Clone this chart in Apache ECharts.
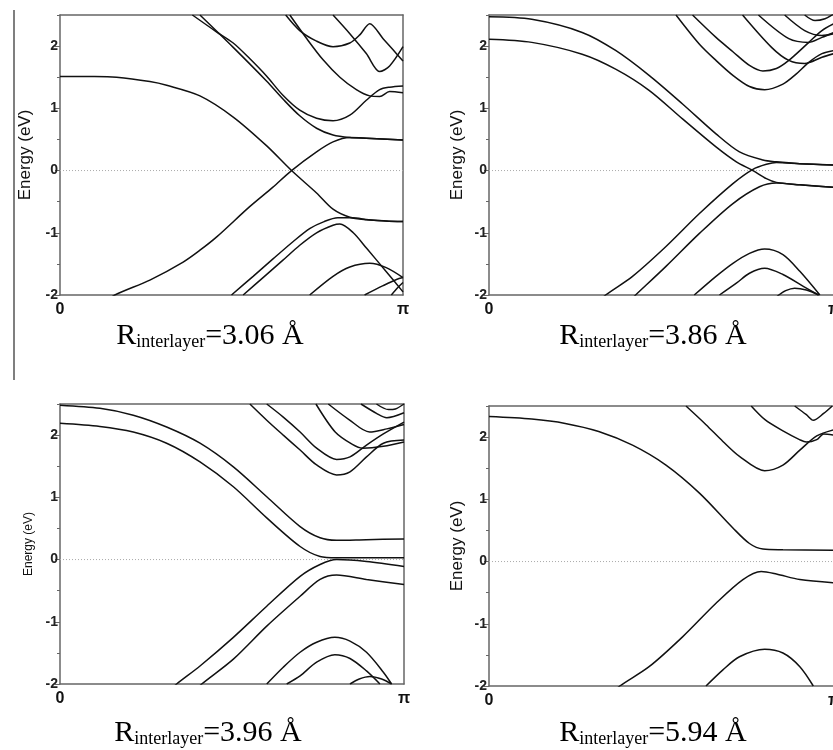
<!DOCTYPE html>
<html>
<head>
<meta charset="utf-8">
<script src="https://cdn.jsdelivr.net/npm/echarts@6/dist/echarts.min.js"></script>
<style>html,body{margin:0;padding:0;background:#fff;}#chart{width:833px;height:750px;}</style>
</head>
<body>
<div id="chart"></div>
<script>
// x: k / pi (0 .. 1), y: energy in eV
const xTickLabels = ['0', 'π'];
const yTicks = [-2, -1, 0, 1, 2];
const panelTitles = ['3.06 Å', '3.86 Å', '3.96 Å', '5.94 Å'];
const zeroLine = [[0, 0], [1, 0]];

// Panel 1: R = 3.06 Å
const p1A  = [[0,1.51],[0.1,1.51],[0.165,1.50],[0.262,1.43],[0.311,1.37],[0.408,1.20],[0.505,0.86],[0.602,0.40],[0.675,0],[0.748,-0.36],[0.796,-0.62],[0.845,-0.75],[0.893,-0.79],[0.95,-0.81],[1,-0.82]];
const p1B  = [[0.13,-2.12],[0.16,-2.0],[0.262,-1.76],[0.359,-1.47],[0.408,-1.28],[0.456,-1.07],[0.553,-0.58],[0.62,-0.27],[0.675,0],[0.748,0.30],[0.796,0.46],[0.845,0.53],[0.893,0.52],[1,0.49]];
const p1U1 = [[0.386,2.5],[0.456,2.23],[0.505,2.05],[0.553,1.80],[0.602,1.52],[0.650,1.21],[0.699,0.97],[0.748,0.84],[0.796,0.80],[0.845,0.89],[0.893,1.13],[0.932,1.30],[0.961,1.34],[1,1.36]];
const p1U2 = [[0.408,2.5],[0.505,1.98],[0.602,1.44],[0.650,1.15],[0.699,0.88],[0.748,0.68],[0.796,0.57],[0.845,0.53],[0.893,0.52],[1,0.49]];
const p1U3 = [[0.658,2.5],[0.699,2.25],[0.748,2.08],[0.796,1.99],[0.845,2.05],[0.874,2.18],[0.903,2.36],[0.942,2.12],[0.971,1.94],[1,1.76]];
const p1U4 = [[0.796,2.5],[0.845,2.20],[0.893,1.88],[0.932,1.59],[0.961,1.68],[1,1.99]];
const p1U5 = [[0.670,2.5],[0.718,2.13],[0.767,1.78],[0.816,1.50],[0.864,1.30],[0.903,1.20],[0.932,1.19],[0.961,1.27],[1,1.25]];
const p1L1 = [[0.5,-2.0],[0.563,-1.70],[0.621,-1.42],[0.680,-1.14],[0.729,-0.93],[0.77,-0.82],[0.81,-0.76],[0.85,-0.76],[0.90,-0.79],[0.95,-0.81],[1,-0.82]];
const p1L2 = [[0.534,-2.0],[0.592,-1.72],[0.650,-1.44],[0.699,-1.20],[0.748,-1.00],[0.796,-0.88],[0.816,-0.86],[0.855,-1.0],[0.894,-1.25],[0.952,-1.63],[1,-1.95]];
const p1L3 = [[0.728,-2.0],[0.796,-1.70],[0.845,-1.55],[0.903,-1.49],[0.951,-1.56],[1,-1.72]];
const p1L4 = [[0.888,-2.0],[0.942,-1.85],[0.981,-1.75],[1,-1.72]];
const p1L5 = [[0.966,-2.0],[0.985,-1.88],[1,-1.80]];

// Panel 2: R = 3.86 Å
const p2V1 = [[0,2.47],[0.124,2.43],[0.270,2.22],[0.367,1.93],[0.464,1.53],[0.561,1.07],[0.658,0.59],[0.726,0.30],[0.794,0.17],[0.833,0.14],[0.901,0.11],[1,0.09]];
const p2V2 = [[0,2.11],[0.124,2.06],[0.270,1.87],[0.367,1.63],[0.464,1.29],[0.561,0.83],[0.658,0.38],[0.717,0.14],[0.765,0],[0.804,-0.13],[0.833,-0.19],[0.901,-0.23],[1,-0.27]];
const p2C1 = [[0.32,-2.1],[0.338,-2.0],[0.416,-1.70],[0.513,-1.22],[0.610,-0.69],[0.707,-0.21],[0.765,0.02],[0.804,0.10],[0.833,0.13],[0.901,0.11],[1,0.09]];
const p2C2 = [[0.41,-2.08],[0.425,-2.0],[0.513,-1.54],[0.610,-1.01],[0.707,-0.53],[0.784,-0.26],[0.833,-0.20],[0.901,-0.23],[1,-0.27]];
const p2D1 = [[0.595,-2.0],[0.658,-1.70],[0.707,-1.49],[0.755,-1.33],[0.799,-1.26],[0.852,-1.35],[0.901,-1.62],[0.959,-2.0]];
const p2D2 = [[0.668,-2.0],[0.717,-1.81],[0.755,-1.65],[0.799,-1.57],[0.852,-1.67],[0.911,-1.86],[0.955,-2.0]];
const p2D3 = [[0.835,-2.02],[0.86,-1.93],[0.886,-1.89],[0.92,-1.92],[0.956,-2.0]];
const p2E1 = [[0.542,2.5],[0.610,2.03],[0.658,1.77],[0.707,1.53],[0.755,1.35],[0.799,1.30],[0.852,1.39],[0.890,1.55],[0.927,1.74],[0.965,1.88],[1,1.93]];
const p2E2 = [[0.590,2.5],[0.658,2.14],[0.707,1.91],[0.755,1.69],[0.794,1.60],[0.833,1.64],[0.869,1.77],[0.927,2.06],[0.965,2.25],[1,2.36]];
const p2E3 = [[0.735,2.5],[0.819,1.98],[0.869,1.77],[0.915,1.72],[0.965,1.82],[1,1.88]];
const p2E4 = [[0.781,2.5],[0.869,2.12],[0.927,2.06],[0.965,2.14],[1,2.22]];
const p2E5 = [[0.857,2.5],[0.915,2.25],[0.965,2.17],[1,2.20]];
const p2E6 = [[0.915,2.5],[0.945,2.41],[0.974,2.44],[1,2.52]];

// Panel 3: R = 3.96 Å
const p3V1 = [[0,2.48],[0.116,2.43],[0.213,2.32],[0.310,2.13],[0.407,1.87],[0.504,1.49],[0.601,1.01],[0.698,0.53],[0.756,0.35],[0.804,0.31],[0.891,0.32],[1,0.33]];
const p3V2 = [[0,2.19],[0.116,2.14],[0.213,2.05],[0.310,1.87],[0.407,1.57],[0.504,1.17],[0.601,0.67],[0.698,0.21],[0.756,0.05],[0.804,0.03],[0.891,0.03],[1,0.03]];
const p3C1 = [[0.32,-2.1],[0.339,-2.0],[0.407,-1.71],[0.504,-1.25],[0.601,-0.75],[0.698,-0.27],[0.756,-0.08],[0.804,0],[0.891,-0.03],[1,-0.11]];
const p3C2 = [[0.40,-2.07],[0.412,-2.0],[0.504,-1.60],[0.601,-1.07],[0.698,-0.59],[0.756,-0.32],[0.804,-0.25],[0.891,-0.32],[1,-0.40]];
const p3D1 = [[0.601,-2.0],[0.649,-1.73],[0.698,-1.49],[0.746,-1.33],[0.799,-1.25],[0.843,-1.31],[0.891,-1.49],[0.940,-1.81],[0.964,-2.0]];
const p3D2 = [[0.659,-2.0],[0.698,-1.87],[0.746,-1.65],[0.799,-1.53],[0.843,-1.59],[0.891,-1.79],[0.930,-2.0]];
const p3D3 = [[0.843,-2.0],[0.87,-1.92],[0.901,-1.88],[0.935,-1.92],[0.964,-2.0]];
const p3E1 = [[0.552,2.5],[0.601,2.24],[0.649,2.00],[0.698,1.76],[0.746,1.52],[0.804,1.36],[0.843,1.41],[0.891,1.65],[0.940,1.87],[1,1.92]];
const p3E2 = [[0.601,2.5],[0.649,2.29],[0.698,2.05],[0.746,1.79],[0.804,1.61],[0.843,1.65],[0.891,1.84],[0.940,2.02],[1,2.21]];
const p3E3 = [[0.744,2.5],[0.80,2.05],[0.85,1.85],[0.88,1.79],[0.94,1.82],[1,1.89]];
const p3E4 = [[0.78,2.5],[0.84,2.25],[0.90,2.05],[0.95,2.10],[1,2.17]];
const p3E5 = [[0.875,2.5],[0.92,2.35],[0.95,2.28],[1,2.36]];
const p3E6 = [[0.92,2.5],[0.955,2.41],[0.975,2.42],[1,2.5]];

// Panel 4: R = 5.94 Å
const p4V1 = [[0,2.33],[0.124,2.29],[0.221,2.22],[0.318,2.09],[0.416,1.87],[0.513,1.55],[0.610,1.10],[0.707,0.54],[0.755,0.29],[0.794,0.20],[0.852,0.19],[1,0.18]];
const p4C1 = [[0.36,-2.1],[0.379,-2.0],[0.464,-1.69],[0.561,-1.21],[0.658,-0.67],[0.736,-0.29],[0.789,-0.16],[0.833,-0.20],[0.901,-0.29],[1,-0.34]];
const p4D1 = [[0.629,-2.0],[0.678,-1.74],[0.726,-1.53],[0.799,-1.41],[0.852,-1.47],[0.901,-1.69],[0.940,-2.0]];
const p4E1 = [[0.571,2.5],[0.629,2.20],[0.678,1.93],[0.726,1.69],[0.799,1.46],[0.852,1.55],[0.901,1.79],[0.95,2.02],[1,2.12]];
const p4E2 = [[0.760,2.5],[0.80,2.28],[0.852,2.10],[0.90,1.96],[0.92,1.92],[0.95,1.96],[0.97,2.05],[1,2.03]];
const p4E3 = [[0.886,2.5],[0.92,2.36],[0.94,2.27],[0.97,2.38],[0.995,2.5]];

const panelBands = [
  [p1A, p1B, p1U1, p1U2, p1U3, p1U4, p1U5, p1L1, p1L2, p1L3, p1L4, p1L5],
  [p2V1, p2V2, p2C1, p2C2, p2D1, p2D2, p2D3, p2E1, p2E2, p2E3, p2E4, p2E5, p2E6],
  [p3V1, p3V2, p3C1, p3C2, p3D1, p3D2, p3D3, p3E1, p3E2, p3E3, p3E4, p3E5, p3E6],
  [p4V1, p4C1, p4D1, p4E1, p4E2, p4E3]
];

// layout (pixels)
const grids = [
  {left: 60, top: 15, width: 343, height: 280},
  {left: 489, top: 15, width: 345, height: 280},
  {left: 60, top: 404, width: 344, height: 280},
  {left: 489, top: 406, width: 345, height: 280}
];
const nameStyle = [
  {size: 17, gap: 26},
  {size: 17, gap: 23},
  {size: 12, gap: 25},
  {size: 17, gap: 23}
];
const titlePos = [[210, 336], [653, 336], [208, 733], [653, 733]];

const SANS = 'Liberation Sans, Arial, sans-serif';
const SERIF = 'Liberation Serif, Times New Roman, serif';
const frame = {show: true, onZero: false, lineStyle: {color: '#666', width: 1.5}};

const xAxes = [], yAxes = [], series = [], graphics = [];
grids.forEach((g, k) => {
  const xb = xAxes.length;
  xAxes.push({
    gridIndex: k, type: 'value', min: 0, max: 1, interval: 1, position: 'bottom',
    axisLine: frame, axisTick: {show: false}, splitLine: {show: false},
    axisLabel: {margin: 7, fontSize: 16, fontWeight: 'bold', color: '#111', fontFamily: SANS,
      formatter: v => (v === 0 ? xTickLabels[0] : (v === 1 ? xTickLabels[1] : ''))}
  });
  xAxes.push({
    gridIndex: k, type: 'value', min: 0, max: 1, position: 'top',
    axisLine: frame, axisTick: {show: false}, axisLabel: {show: false}, splitLine: {show: false}
  });
  const ya = yAxes.length;
  // minor ticks every 0.5 (carries the series)
  yAxes.push({
    gridIndex: k, type: 'value', min: -2, max: 2.5, interval: 0.5, position: 'left',
    axisLine: frame, axisTick: {show: true, length: 3, lineStyle: {color: '#666', width: 1}},
    axisLabel: {show: false}, splitLine: {show: false},
    name: 'Energy (eV)', nameLocation: 'middle', nameRotate: 90, nameGap: nameStyle[k].gap,
    nameTextStyle: {fontSize: nameStyle[k].size, color: '#111', fontFamily: SANS}
  });
  // major ticks + labels
  yAxes.push({
    gridIndex: k, type: 'value', min: -2, max: 2.5, interval: 1, position: 'left',
    axisLine: {show: false, onZero: false}, axisTick: {show: true, length: 5, lineStyle: {color: '#666', width: 1}},
    splitLine: {show: false},
    axisLabel: {margin: 2, fontSize: 14, fontWeight: 'bold', color: '#222', fontFamily: SANS, showMaxLabel: false,
      formatter: v => (yTicks.indexOf(v) >= 0 ? String(v) : '')}
  });
  yAxes.push({
    gridIndex: k, type: 'value', min: -2, max: 2.5, position: 'right',
    axisLine: frame, axisTick: {show: false}, axisLabel: {show: false}, splitLine: {show: false}
  });
  series.push({
    type: 'line', xAxisIndex: xb, yAxisIndex: ya, data: zeroLine, symbol: 'none', silent: true,
    lineStyle: {type: [1, 2], color: '#aaa', width: 1}, z: 1
  });
  panelBands[k].forEach(band => {
    series.push({
      type: 'line', xAxisIndex: xb, yAxisIndex: ya, data: band, symbol: 'none', silent: true,
      smooth: 0.3, clip: true,
      lineStyle: {color: '#111', width: 1.5}, z: 2
    });
  });
  graphics.push({
    type: 'text', x: titlePos[k][0], y: titlePos[k][1], silent: true,
    style: {
      text: '{r|R}{s|interlayer}{r|=' + panelTitles[k] + '}',
      align: 'center', verticalAlign: 'middle', fontFamily: SERIF,
      rich: {
        r: {fontFamily: SERIF, fontSize: 30, color: '#111', lineHeight: 30, verticalAlign: 'middle'},
        s: {fontFamily: SERIF, fontSize: 18, color: '#111', lineHeight: 14, verticalAlign: 'bottom'}
      }
    }
  });
});
graphics.push({type: 'line', silent: true, shape: {x1: 14, y1: 10, x2: 14, y2: 380}, style: {stroke: '#555', lineWidth: 1.5}});

const chart = echarts.init(document.getElementById('chart'), null, {renderer: 'canvas'});
chart.setOption({
  animation: false,
  backgroundColor: '#fff',
  grid: grids.map(g => Object.assign({containLabel: false, outerBoundsMode: 'none'}, g)),
  xAxis: xAxes,
  yAxis: yAxes,
  series: series,
  graphic: graphics
});
</script>
</body>
</html>
